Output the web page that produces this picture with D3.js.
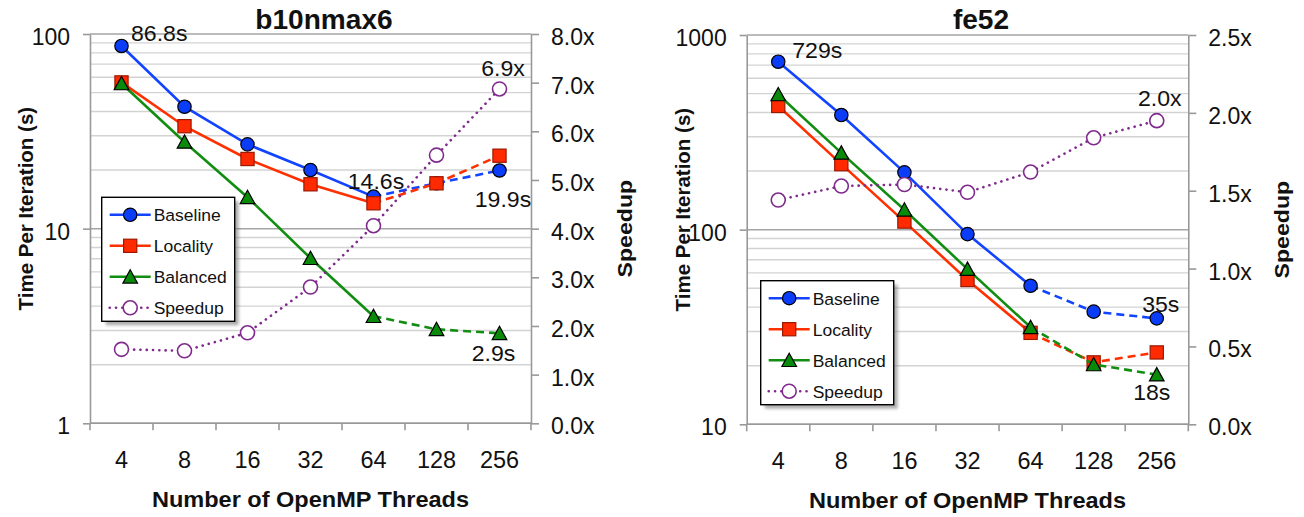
<!DOCTYPE html>
<meta charset="utf-8">
<style>
body { margin: 0; background: #fff; }
svg { font-family: "Liberation Sans", Arial, sans-serif; }
</style>
<body></body>
<script src="https://cdn.jsdelivr.net/npm/d3@7"></script>
<script>
// thread counts on the x axis
var threads = ["4", "8", "16", "32", "64", "128", "256"];
var seriesNames = ["Baseline", "Locality", "Balanced", "Speedup"];

// b10nmax6 (seconds per iteration, speedup = baseline / balanced)
var b10Baseline = [86.8, 42.3, 27.1, 20.0, 14.6, 17.1, 19.9];
var b10Locality = [56.4, 33.6, 22.8, 16.9, 13.5, 17.1, 23.7];
var b10Balanced = [55.7, 27.9, 14.5, 7.05, 3.55, 3.04, 2.9];
var b10Speedup  = [1.52, 1.49, 1.86, 2.80, 4.06, 5.51, 6.87];
var b10TimeTicks  = [1, 10, 100];
var b10SpeedTicks = [0, 1, 2, 3, 4, 5, 6, 7, 8];
var b10Notes = ["86.8s", "14.6s", "19.9s", "2.9s", "6.9x"];

// fe52
var fe52Baseline = [729, 388, 197, 94.9, 51.5, 37.9, 35];
var fe52Locality = [432, 217, 110, 55.1, 29.5, 20.8, 23.4];
var fe52Balanced = [495, 248, 126.5, 62.7, 31.5, 20.3, 18];
var fe52Speedup  = [1.44, 1.53, 1.54, 1.49, 1.62, 1.84, 1.95];
var fe52TimeTicks  = [10, 100, 1000];
var fe52SpeedTicks = [0, 0.5, 1, 1.5, 2, 2.5];
var fe52Notes = ["729s", "35s", "18s", "2.0x"];

var styles = {
  Baseline: {color: "#1244ff", fill: "#0b3df8", stroke: "#000", shape: "circle"},
  Locality: {color: "#ff3000", fill: "#ff2a00", stroke: "#9c1800", shape: "square"},
  Balanced: {color: "#118e11", fill: "#0a8a0a", stroke: "#000", shape: "triangle"},
  Speedup:  {color: "#7f2a8c", fill: "#fff", stroke: "#7f2a8c", shape: "open"}
};

var svg = d3.select("body").append("svg")
    .attr("width", 1304).attr("height", 517);

var defs = svg.append("defs");
defs.append("filter").attr("id", "blur")
  .append("feGaussianBlur").attr("stdDeviation", 1.6);

function label(g, x, y, s, o) {
  o = o || {};
  return g.append("text")
    .attr("transform", "translate(" + x + "," + y + ")" + (o.rot ? " rotate(-90)" : "") +
          " scale(" + (o.sx || 1) + ",1)")
    .attr("text-anchor", o.anchor || "start")
    .style("font-size", (o.size || 22) + "px")
    .style("font-weight", o.bold ? "bold" : null)
    .attr("fill", "#111")
    .text(s);
}

function marker(g, name, cx, cy) {
  var st = styles[name];
  if (st.shape == "circle" || st.shape == "open") {
    g.append("circle").attr("cx", cx).attr("cy", cy)
      .attr("r", st.shape == "open" ? 7 : 6.7)
      .attr("fill", st.fill).attr("stroke", st.stroke)
      .attr("stroke-width", st.shape == "open" ? 1.6 : 1.2);
  } else if (st.shape == "square") {
    g.append("rect").attr("x", cx - 6.6).attr("y", cy - 6.6)
      .attr("width", 13.2).attr("height", 13.2)
      .attr("fill", st.fill).attr("stroke", st.stroke).attr("stroke-width", 1.2);
  } else {
    g.append("path")
      .attr("d", "M" + cx + "," + (cy - 7) + "L" + (cx + 7.3) + "," + (cy + 6.3) +
                 "L" + (cx - 7.3) + "," + (cy + 6.3) + "Z")
      .attr("fill", st.fill).attr("stroke", st.stroke).attr("stroke-width", 1.2);
  }
}

function drawChart(cfg) {
  var b = cfg.box;
  var g = svg.append("g");

  var x = d3.scaleBand().domain(threads).range([b.left, b.left + b.width]);
  var y = d3.scaleLog().domain(cfg.timeDomain).range([b.top + b.height, b.top]);
  var s = d3.scaleLinear().domain([0, d3.max(cfg.speedTicks)]).range([b.top + b.height, b.top]);
  var cx = function(i) { return x(threads[i]) + x.bandwidth() / 2; };

  // horizontal gridlines, minor 2..9 of each decade and major at the decades
  var lo = cfg.timeDomain[0], hi = cfg.timeDomain[1];
  for (var d = lo; d < hi; d *= 10) {
    for (var m = 2; m <= 9; m++) {
      g.append("line").attr("x1", b.left).attr("x2", b.left + b.width)
        .attr("y1", y(d * m)).attr("y2", y(d * m))
        .attr("stroke", "#d3d3d3").attr("stroke-width", 1.4);
    }
  }
  cfg.timeTicks.forEach(function(v) {
    g.append("line").attr("x1", b.left).attr("x2", b.left + b.width)
      .attr("y1", y(v)).attr("y2", y(v))
      .attr("stroke", "#a4a4a4").attr("stroke-width", 1.5);
  });

  // left axis
  var ya = g.append("g").attr("transform", "translate(" + b.left + ",0)")
    .call(d3.axisLeft(y).tickValues(cfg.timeTicks).tickSize(7).tickSizeOuter(0)
      .tickFormat(d3.format("d")));
  ya.selectAll("text").attr("x", -20).attr("dy", null).attr("y", 10.5)
    .style("font-size", "23px").attr("fill", "#111");

  // right speedup axis
  var sa = g.append("g").attr("transform", "translate(" + (b.left + b.width) + ",0)")
    .call(d3.axisRight(s).tickValues(cfg.speedTicks).tickSize(8).tickSizeOuter(0)
      .tickFormat(function(v) { return d3.format(".1f")(v) + "x"; }));
  sa.selectAll("text").attr("x", 20).attr("dy", null).attr("y", 10.5)
    .style("font-size", "23px").attr("fill", "#111");

  [ya, sa].forEach(function(a) {
    a.select(".domain").attr("stroke", "#999").attr("stroke-width", 1.6);
    a.selectAll(".tick line").attr("stroke", "#999").attr("stroke-width", 1.6);
  });

  // bottom axis: ticks on band edges, labels at band centers
  var bottom = b.top + b.height;
  var edges = threads.map(function(t) { return x(t); }).concat([b.left + b.width]);
  edges.forEach(function(e) {
    g.append("line").attr("x1", e).attr("x2", e).attr("y1", bottom).attr("y2", bottom + 7)
      .attr("stroke", "#999").attr("stroke-width", 1.6);
  });
  g.append("line").attr("x1", b.left).attr("x2", b.left + b.width)
    .attr("y1", bottom).attr("y2", bottom).attr("stroke", "#999").attr("stroke-width", 1.6);
  threads.forEach(function(t, i) {
    label(g, cx(i), bottom + 45, t, {anchor: "middle", size: 23, sx: 1.02});
  });

  // titles
  label(g, b.left + b.width / 2 + 13.5, 28.5, cfg.title, {anchor: "middle", size: 27, bold: true, sx: 1.04});
  label(g, b.left + b.width / 2, bottom + 84, "Number of OpenMP Threads",
        {anchor: "middle", size: 22, bold: true, sx: 1.07});
  label(g, b.left - 57, b.top + b.height / 2 - 20, "Time Per Iteration (s)",
        {anchor: "middle", size: 20.5, bold: true, rot: true});
  label(g, b.left + b.width + 101, b.top + b.height / 2, "Speedup",
        {anchor: "middle", size: 21, bold: true, rot: true, sx: 1.1});

  // series
  var data = {Baseline: cfg.baseline, Locality: cfg.locality, Balanced: cfg.balanced, Speedup: cfg.speedup};
  seriesNames.forEach(function(name) {
    var st = styles[name];
    var vals = data[name];
    var sc = name == "Speedup" ? s : y;
    var pts = vals.map(function(v, i) { return {i: i, v: v}; });
    var line = d3.line().x(function(p) { return cx(p.i); }).y(function(p) { return sc(p.v); });
    if (name == "Speedup") {
      g.append("path").attr("d", line(pts)).attr("fill", "none")
        .attr("stroke", st.color).attr("stroke-width", 2.6)
        .attr("stroke-dasharray", "0.1,6.2").attr("stroke-linecap", "round");
    } else {
      g.append("path").attr("d", line(pts.slice(0, 5))).attr("fill", "none")
        .attr("stroke", st.color).attr("stroke-width", 2.6);
      g.append("path").attr("d", line(pts.slice(4))).attr("fill", "none")
        .attr("stroke", st.color).attr("stroke-width", 2.6).attr("stroke-dasharray", "8,5");
    }
    pts.forEach(function(p) { marker(g, name, cx(p.i), sc(p.v)); });
  });

  // value annotations
  cfg.notes.forEach(function(n) {
    var sc = n.series == "Speedup" ? s : y;
    var v = data[n.series][n.i];
    label(g, cx(n.i) + n.dx, sc(v) + n.dy, n.text, {anchor: n.anchor, size: 22, sx: 1.05});
  });

  // legend
  var L = cfg.legend;
  var lg = g.append("g").attr("transform", "translate(" + L.x + "," + L.y + ")");
  lg.append("rect").attr("x", 4).attr("y", 4).attr("width", 133).attr("height", 124)
    .attr("fill", "#777").attr("opacity", 0.6).attr("filter", "url(#blur)");
  lg.append("rect").attr("width", 133).attr("height", 124)
    .attr("fill", "#fff").attr("stroke", "#000").attr("stroke-width", 1.4);
  seriesNames.forEach(function(name, i) {
    var ry = 17.5 + i * 31;
    var st = styles[name];
    var ln = lg.append("line").attr("x1", 8).attr("x2", 49).attr("y1", ry).attr("y2", ry)
      .attr("stroke", st.color).attr("stroke-width", 2.6);
    if (name == "Speedup") ln.attr("stroke-dasharray", "0.1,6.2").attr("stroke-linecap", "round");
    marker(lg, name, 28.5, ry);
    label(lg, 52, ry + 6.3, name, {size: 17, sx: 1.03});
  });
}

drawChart({
  title: "b10nmax6",
  box: {left: 90, top: 34, width: 441, height: 389.3},
  timeDomain: [1, 100], timeTicks: b10TimeTicks, speedTicks: b10SpeedTicks,
  baseline: b10Baseline, locality: b10Locality, balanced: b10Balanced, speedup: b10Speedup,
  legend: {x: 101.7, y: 197.3},
  notes: [
    {series: "Baseline", i: 0, text: b10Notes[0], dx: 9.5, dy: -4.5, anchor: "start"},
    {series: "Baseline", i: 4, text: b10Notes[1], dx: 2.5, dy: -8, anchor: "middle"},
    {series: "Baseline", i: 6, text: b10Notes[2], dx: 3.5, dy: 37, anchor: "middle"},
    {series: "Balanced", i: 6, text: b10Notes[3], dx: -6, dy: 28, anchor: "middle"},
    {series: "Speedup",  i: 6, text: b10Notes[4], dx: 3.5, dy: -13, anchor: "middle"}
  ]
});

drawChart({
  title: "fe52",
  box: {left: 746.7, top: 35, width: 441.6, height: 389.3},
  timeDomain: [10, 1000], timeTicks: fe52TimeTicks, speedTicks: fe52SpeedTicks,
  baseline: fe52Baseline, locality: fe52Locality, balanced: fe52Balanced, speedup: fe52Speedup,
  legend: {x: 760.7, y: 280.7},
  notes: [
    {series: "Baseline", i: 0, text: fe52Notes[0], dx: 14, dy: -3.5, anchor: "start"},
    {series: "Baseline", i: 6, text: fe52Notes[1], dx: 4, dy: -6.5, anchor: "middle"},
    {series: "Balanced", i: 6, text: fe52Notes[2], dx: -5, dy: 25.5, anchor: "middle"},
    {series: "Speedup",  i: 6, text: fe52Notes[3], dx: 3, dy: -15, anchor: "middle"}
  ]
});
</script>
